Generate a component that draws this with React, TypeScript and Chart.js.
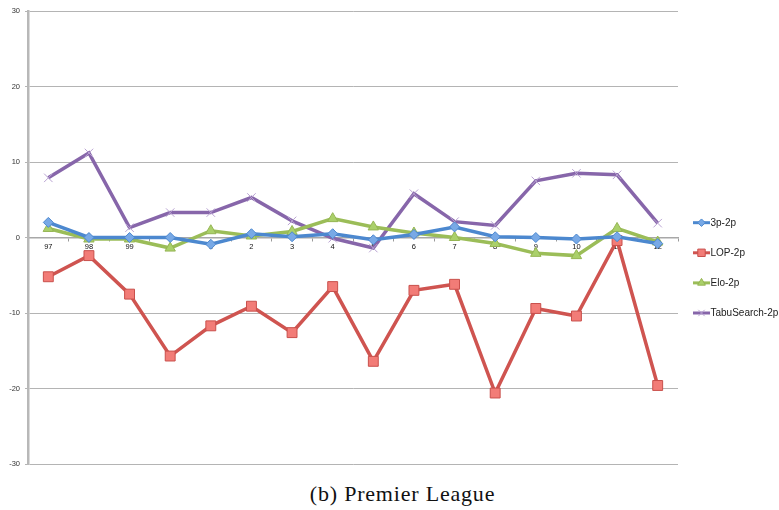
import React, { useEffect, useRef } from "react";
import { Chart, registerables } from "chart.js";
import { drawPoint } from "chart.js/helpers";

Chart.register(...registerables);

const categories = ["97", "98", "99", "0", "1", "2", "3", "4", "5", "6", "7", "8", "9", "10", "11", "12"];
const yTicks = [-30, -20, -10, 0, 10, 20, 30];

const s3p2p = [2.0, 0, 0, 0, -0.9, 0.5, 0.1, 0.5, -0.3, 0.4, 1.4, 0.1, 0, -0.2, 0.1, -0.8];
const lop2p = [-5.2, -2.4, -7.5, -15.7, -11.7, -9.1, -12.6, -6.5, -16.4, -7.0, -6.2, -20.6, -9.4, -10.4, -0.4, -19.6];
const elo2p = [1.2, -0.2, -0.2, -1.4, 0.9, 0.2, 0.8, 2.5, 1.4, 0.6, 0, -0.8, -2.1, -2.4, 1.2, -0.6];
const tabu2p = [7.9, 11.2, 1.3, 3.3, 3.3, 5.3, 2.2, -0.1, -1.4, 5.8, 2.1, 1.6, 7.5, 8.5, 8.3, 1.9];

const seriesNames = ["3p-2p", "LOP-2p", "Elo-2p", "TabuSearch-2p"];
const caption = "(b) Premier League";

const styles = [
  { line: "#4c88cf", fill: "#78a9e6", border: "#4c88cf", point: "rectRot", r: 5 },
  { line: "#cf5450", fill: "#f27c77", border: "#c9504c", point: "rect", r: 7 },
  { line: "#9bbd58", fill: "#aad06a", border: "#95b553", point: "triangle", r: 6 },
  { line: "#8766aa", fill: "#b9a3d2", border: "#b9a3d2", point: "crossRot", r: 6 },
];

const legendPlugin = {
  id: "customLegend",
  afterDraw(chart: any) {
    const ctx = chart.ctx;
    ctx.save();
    const x0 = 693;
    const yStart = 222.7;
    const gap = 30.1;
    chart.data.datasets.forEach((ds: any, i: number) => {
      const st = styles[i];
      const y = yStart + i * gap;
      ctx.strokeStyle = st.line;
      ctx.lineWidth = 3;
      ctx.beginPath();
      ctx.moveTo(x0, y);
      ctx.lineTo(x0 + 17, y);
      ctx.stroke();
      ctx.fillStyle = st.fill;
      ctx.strokeStyle = st.border;
      ctx.lineWidth = 1;
      drawPoint(ctx, { pointStyle: st.point, radius: st.r * 0.75, rotation: 0, borderWidth: 1 } as any, x0 + 8.5, y);
      ctx.fillStyle = "#222";
      ctx.font = "10px 'Liberation Sans', sans-serif";
      ctx.textBaseline = "middle";
      ctx.textAlign = "left";
      ctx.fillText(ds.label, x0 + 17.5, y + 0.5);
    });
    ctx.restore();
  },
};

export default function App() {
  const ref = useRef<HTMLCanvasElement | null>(null);
  useEffect(() => {
    if (!ref.current) return;
    const data = [s3p2p, lop2p, elo2p, tabu2p];
    const chart = new Chart(ref.current, {
      type: "line",
      data: {
        labels: categories,
        datasets: data.map((d, i) => ({
          label: seriesNames[i],
          data: d,
          borderColor: styles[i].line,
          borderWidth: 3.5,
          backgroundColor: styles[i].fill,
          pointBackgroundColor: styles[i].fill,
          pointBorderColor: styles[i].border,
          pointBorderWidth: 1,
          pointStyle: styles[i].point as any,
          pointRadius: styles[i].r,
          tension: 0,
          fill: false,
        })),
      },
      options: {
        animation: false,
        responsive: true,
        maintainAspectRatio: false,
        layout: { padding: { left: 0, right: 101, top: 11, bottom: 16 } },
        plugins: {
          legend: { display: false },
          tooltip: { enabled: false },
          title: { display: false },
        },
        scales: {
          x: {
            type: "category",
            position: { y: 0 } as any,
            offset: true,
            grid: {
              display: true,
              drawOnChartArea: false,
              drawTicks: true,
              tickLength: 3,
              color: "#9a9a9a",
              offset: true,
            },
            border: { display: true, color: "#a8a8a8", width: 1.5 },
            ticks: {
              color: "#111",
              font: { size: 7.5, family: "'Liberation Sans', sans-serif" },
              padding: 2,
              autoSkip: false,
              maxRotation: 0,
            },
          },
          y: {
            min: -30,
            max: 30,
            afterBuildTicks: (scale: any) => {
              scale.ticks = yTicks.map((v) => ({ value: v }));
            },
            afterFit: (scale: any) => {
              scale.width = 28;
            },
            grid: {
              color: "#b4b4b4",
              lineWidth: 1,
              tickLength: 3,
              drawTicks: true,
            },
            border: { display: true, color: "#b8b8b8", width: 2.5 },
            ticks: {
              color: "#333",
              font: { size: 7.5, family: "'Liberation Sans', sans-serif" },
              padding: 5,
            },
          },
        },
      },
      plugins: [legendPlugin],
    });
    return () => chart.destroy();
  }, []);

  return (
    <div style={{ position: "absolute", left: 0, top: 0, width: 779, height: 510, background: "#fff" }}>
      <div style={{ position: "absolute", left: 0, top: 0, width: 779, height: 480 }}>
        <canvas ref={ref} />
      </div>
      <div
        style={{
          position: "absolute",
          left: 0,
          top: 482,
          width: 779,
          textAlign: "center",
          fontFamily: "'Liberation Serif', serif",
          fontSize: 22,
          letterSpacing: 0.8,
          lineHeight: "24px",
          color: "#111",
          paddingLeft: 26,
          boxSizing: "border-box",
          whiteSpace: "nowrap",
        }}
      >
        {caption}
      </div>
    </div>
  );
}
